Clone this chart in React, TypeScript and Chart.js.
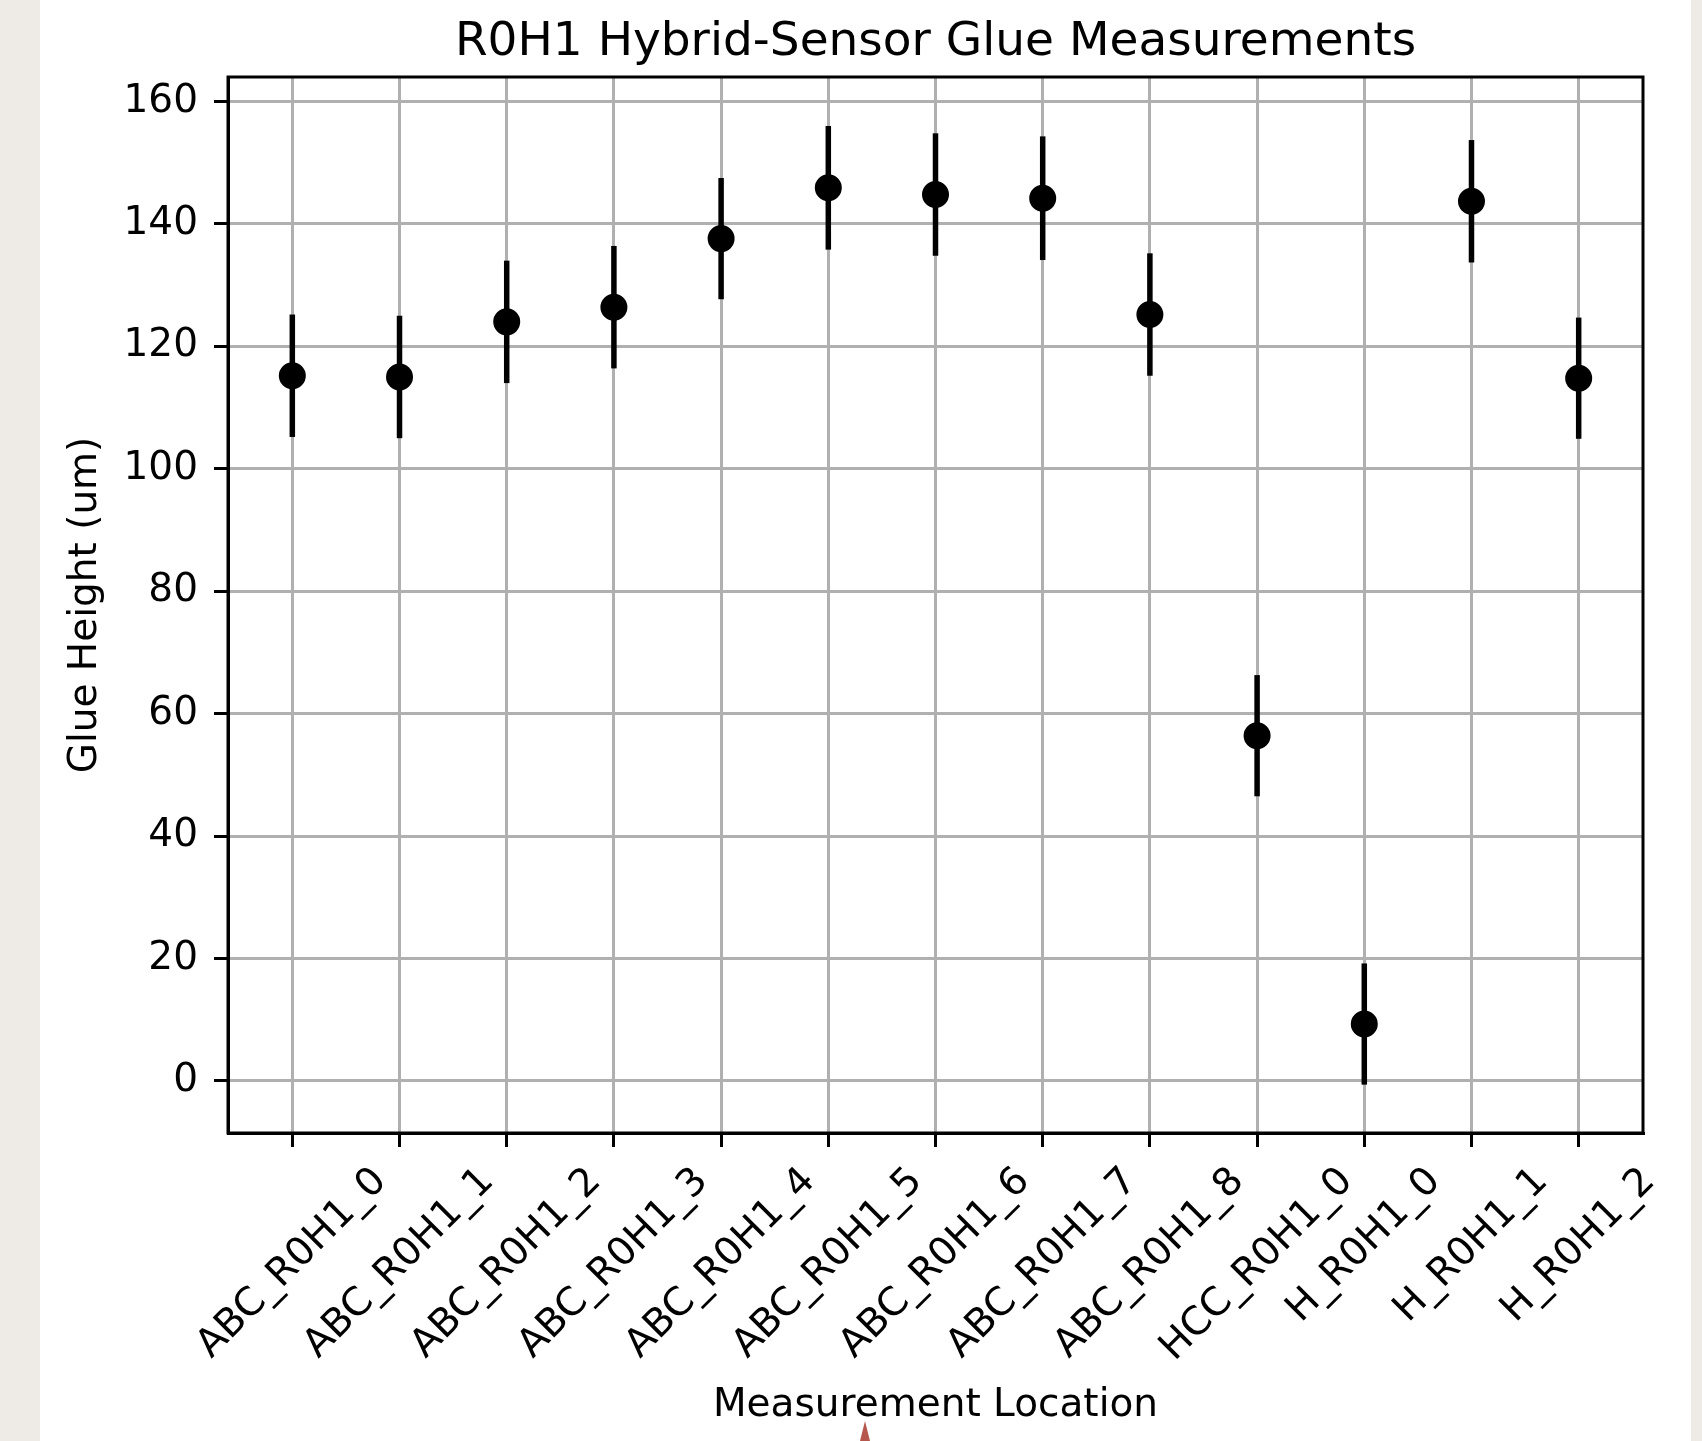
import React, { useEffect, useRef } from "react";
import { Chart, registerables } from "chart.js";

Chart.register(...registerables);

const categories = [
  "ABC_R0H1_0",
  "ABC_R0H1_1",
  "ABC_R0H1_2",
  "ABC_R0H1_3",
  "ABC_R0H1_4",
  "ABC_R0H1_5",
  "ABC_R0H1_6",
  "ABC_R0H1_7",
  "ABC_R0H1_8",
  "HCC_R0H1_0",
  "H_R0H1_0",
  "H_R0H1_1",
  "H_R0H1_2",
];

const glueHeights = [115.2, 115.0, 124.0, 126.4, 137.6, 145.9, 144.8, 144.2, 125.2, 56.4, 9.3, 143.7, 114.8];
const glueErrors = [10.0, 10.0, 10.0, 10.0, 9.9, 10.1, 10.0, 10.1, 10.0, 9.9, 9.9, 10.0, 9.9];
const yTickValues = [0, 20, 40, 60, 80, 100, 120, 140, 160];

const chartTitle = "R0H1 Hybrid-Sensor Glue Measurements";
const xAxisTitle = "Measurement Location";
const yAxisTitle = "Glue Height (um)";

const FONT = "'DejaVu Sans', sans-serif";

export default function App() {
  const canvasRef = useRef<HTMLCanvasElement>(null);

  useEffect(() => {
    document.body.style.margin = "0";
    document.body.style.overflow = "hidden";
    const canvas = canvasRef.current;
    if (!canvas) return;

    const errorBars = {
      id: "errorBars",
      beforeDatasetsDraw(chart: any) {
        const { ctx } = chart;
        const xs = chart.scales.x;
        const ys = chart.scales.y;
        ctx.save();
        ctx.strokeStyle = "#000";
        ctx.lineWidth = 5.5;
        ctx.lineCap = "butt";
        glueHeights.forEach((v, i) => {
          const px = xs.getPixelForValue(i);
          ctx.beginPath();
          ctx.moveTo(px, ys.getPixelForValue(v - glueErrors[i]));
          ctx.lineTo(px, ys.getPixelForValue(v + glueErrors[i]));
          ctx.stroke();
        });
        ctx.restore();
      },
    };

    const frame = {
      id: "frame",
      afterDatasetsDraw(chart: any) {
        const { ctx, chartArea } = chart;
        ctx.save();
        ctx.strokeStyle = "#000";
        ctx.lineWidth = 3;
        ctx.strokeRect(
          chartArea.left,
          chartArea.top,
          chartArea.right - chartArea.left,
          chartArea.bottom - chartArea.top
        );
        ctx.restore();
      },
    };

    const labelsAndTitle = {
      id: "labelsAndTitle",
      afterDraw(chart: any) {
        const { ctx, chartArea } = chart;
        const xs = chart.scales.x;
        ctx.save();
        // title
        ctx.fillStyle = "#000";
        ctx.font = `47px ${FONT}`;
        ctx.textAlign = "center";
        ctx.textBaseline = "alphabetic";
        ctx.fillText(chartTitle, (chartArea.left + chartArea.right) / 2, 55);
        // rotated x tick labels, bbox centred under tick
        ctx.font = `39px ${FONT}`;
        ctx.textAlign = "right";
        ctx.textBaseline = "middle";
        const c = Math.SQRT1_2;
        const h = 43;
        const top = chartArea.bottom + 14 + 13;
        categories.forEach((lab, i) => {
          const px = xs.getPixelForValue(i);
          const w = ctx.measureText(lab).width;
          const ax = px + (w * c) / 2;
          const ay = top + (h * c) / 2;
          ctx.save();
          ctx.translate(ax, ay);
          ctx.rotate(-Math.PI / 4);
          ctx.fillText(lab, 0, 0);
          ctx.restore();
        });
        ctx.restore();
      },
    };

    const gridOpts = {
      color: "#b0b0b0",
      lineWidth: 3,
      drawTicks: true,
      tickLength: 14,
      tickColor: "#000",
      tickWidth: 3,
    };

    const chart = new Chart(canvas, {
      type: "scatter",
      data: {
        datasets: [
          {
            data: glueHeights.map((v, i) => ({ x: i, y: v })),
            pointRadius: 12,
            pointBorderWidth: 3,
            pointBackgroundColor: "#000",
            pointBorderColor: "#000",
            showLine: false,
          },
        ],
      },
      options: {
        animation: false,
        responsive: false,
        maintainAspectRatio: false,
        layout: { padding: { top: 77, right: 59, left: 0, bottom: 0 } },
        plugins: {
          legend: { display: false },
          tooltip: { enabled: false },
          title: { display: false },
        },
        scales: {
          x: {
            type: "linear",
            min: -0.6,
            max: 12.6,
            afterBuildTicks: (s: any) => {
              s.ticks = categories.map((_, i) => ({ value: i }));
            },
            afterFit: (s: any) => {
              s.height = 308;
            },
            ticks: { display: false },
            grid: gridOpts,
            border: { display: true, color: "#000", width: 3 },
            title: {
              display: true,
              text: xAxisTitle,
              color: "#000",
              font: { family: FONT, size: 39 },
              padding: { top: 0, bottom: 11.6 },
            },
          },
          y: {
            type: "linear",
            min: -8.5,
            max: 164.0,
            afterBuildTicks: (s: any) => {
              s.ticks = yTickValues.map((v) => ({ value: v }));
            },
            afterFit: (s: any) => {
              s.width = 228;
            },
            ticks: {
              color: "#000",
              font: { family: FONT, size: 39 },
              padding: 16,
            },
            grid: gridOpts,
            border: { display: true, color: "#000", width: 3 },
            title: {
              display: true,
              text: yAxisTitle,
              color: "#000",
              font: { family: FONT, size: 39 },
              padding: { top: 62.6, bottom: 0 },
            },
          },
        },
      },
      plugins: [errorBars, frame, labelsAndTitle],
    } as any);

    return () => chart.destroy();
  }, []);

  return (
    <div style={{ position: "relative", width: 1702, height: 1441, background: "#ffffff", overflow: "hidden" }}>
      <div style={{ position: "absolute", left: 0, top: 0, width: 40, height: 1441, background: "#eeebe6" }} />
      <div style={{ position: "absolute", left: 1691, top: 0, width: 11, height: 1441, background: "#eeebe6" }} />
      <canvas
        ref={canvasRef}
        width={1702}
        height={1441}
        style={{ position: "absolute", left: 0, top: 0, width: 1702, height: 1441, display: "block" }}
      />
      <div
        style={{
          position: "absolute",
          left: 860,
          top: 1421,
          width: 0,
          height: 0,
          borderLeft: "5px solid transparent",
          borderRight: "5px solid transparent",
          borderBottom: "20px solid #b5574d",
        }}
      />
    </div>
  );
}
